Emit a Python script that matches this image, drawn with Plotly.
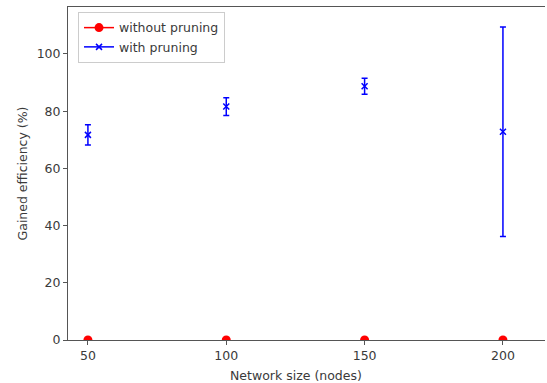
import plotly.graph_objects as go

network_size = [50, 100, 150, 200]
without_pruning = [0, 0, 0, 0]
with_pruning = [71.7, 81.6, 88.7, 72.8]
with_pruning_err = [3.5, 3.1, 2.8, 36.6]

x_ticks = [50, 100, 150, 200]
y_ticks = [0, 20, 40, 60, 80, 100]

fig = go.Figure()

for i, (xv, yv) in enumerate(zip(network_size, without_pruning)):
    fig.add_trace(go.Scatter(
        x=[xv], y=[yv], mode="lines+markers", name="without pruning",
        legendgroup="without", showlegend=(i == 0), cliponaxis=True,
        line=dict(color="red", width=1.5),
        marker=dict(color="red", size=9, symbol="circle"),
    ))

for i, (xv, yv, ev) in enumerate(zip(network_size, with_pruning, with_pruning_err)):
    fig.add_trace(go.Scatter(
        x=[xv], y=[yv], mode="lines+markers", name="with pruning",
        legendgroup="with", showlegend=(i == 0),
        line=dict(color="blue", width=1.5),
        marker=dict(color="blue", size=6, symbol="x-thin", line=dict(color="blue", width=1.5)),
        error_y=dict(type="data", array=[ev], visible=True, color="blue", thickness=1.5, width=3),
    ))

font_color = "#3a3a3a"
fs = 12.5
fig.update_layout(
    width=547, height=383,
    margin=dict(l=68, r=2, t=7, b=43, autoexpand=False),
    paper_bgcolor="white", plot_bgcolor="white",
    font=dict(family="DejaVu Sans", size=fs, color=font_color),
    showlegend=True,
    legend=dict(
        x=0.021, y=0.985, xanchor="left", yanchor="top",
        bordercolor="#cccccc", borderwidth=1, bgcolor="rgba(255,255,255,0.8)",
        font=dict(size=fs, color=font_color), itemwidth=30,
        tracegroupgap=0,
    ),
    xaxis=dict(
        range=[42.8, 215.2], tickvals=x_ticks, showgrid=False, zeroline=False,
        showline=True, linecolor="#555555", linewidth=1, mirror=True,
        ticks="outside", ticklen=4, tickcolor="#555555", automargin=False,
        tickfont=dict(size=fs, color=font_color),
    ),
    yaxis=dict(
        range=[0, 116.4], tickvals=y_ticks, showgrid=False, zeroline=False,
        showline=True, linecolor="#555555", linewidth=1, automargin=False,
        ticks="outside", ticklen=4, tickcolor="#555555",
        tickfont=dict(size=fs, color=font_color),
        title=dict(text="Gained efficiency (%)", font=dict(size=fs, color=font_color), standoff=6),
    ),
    annotations=[dict(
        text="Network size (nodes)", xref="paper", yref="paper",
        x=0.478, y=-0.078, xanchor="center", yanchor="top", showarrow=False,
        font=dict(size=fs, color=font_color),
    )],
)

fig.write_html(
    "out.html",
    config={"displayModeBar": False},
    post_script="document.body.style.margin='0';document.body.style.overflow='hidden';",
)
